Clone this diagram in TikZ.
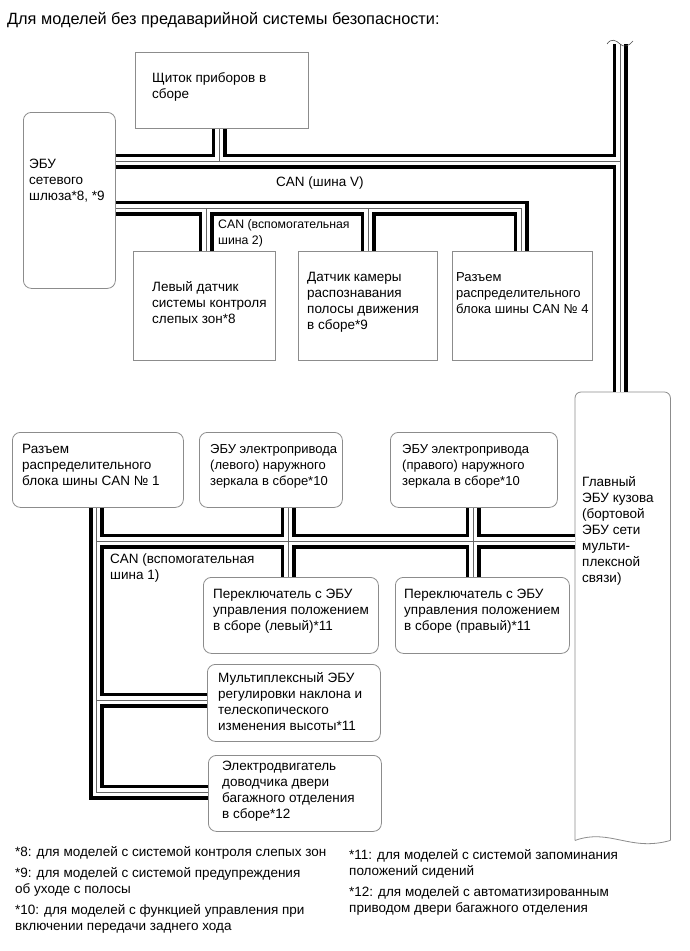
\documentclass[tikz,border=0pt]{standalone}
\usepackage{fontspec}
\setmainfont{Liberation Sans}

\begin{document}
\begin{tikzpicture}[x=1pt,y=-1pt,font=\fontsize{13.5}{16}\selectfont,
    box/.style={draw=black!45,line width=0.8pt,fill=white,anchor=north west,inner sep=0pt},
    rbox/.style={box,rounded corners=8pt},
    txt/.style={anchor=north west,inner sep=0pt,align=left}]
  \useasboundingbox[fill=white] (0,0) rectangle (690,951);

  % Title
  \node[txt,font=\fontsize{16.3}{18}\selectfont] (title) at (7,12) {Для моделей без предаварийной системы безопасности:};

  % Boxes
  \node[box,minimum width=173,minimum height=76]  (cluster) at (135,52)  {};
  \node[rbox,minimum width=92,minimum height=176] (gw)      at (23,112)  {};
  \node[box,minimum width=142,minimum height=109] (bsd)     at (133,251) {};
  \node[box,minimum width=139,minimum height=109] (lane)    at (298,251) {};
  \node[box,minimum width=140,minimum height=109] (jb4)     at (452,251) {};
  \node[rbox,minimum width=171,minimum height=75] (jb1)     at (12,432)  {};
  \node[rbox,minimum width=143,minimum height=75] (mirL)    at (199,432) {};
  \node[rbox,minimum width=167,minimum height=75] (mirR)    at (390,432) {};
  \node[rbox,minimum width=175,minimum height=76] (swL)     at (203,577) {};
  \node[rbox,minimum width=174,minimum height=76] (swR)     at (395,577) {};
  \node[rbox,minimum width=173,minimum height=77] (tilt)    at (207,664) {};
  \node[rbox,minimum width=173,minimum height=76] (door)    at (208,755) {};
  \node[anchor=north west,inner sep=0pt,minimum width=95,minimum height=448] (body) at (575,392) {};

  % Main body ECU: rounded top, torn bottom
  \draw[black!45,line width=0.8pt,rounded corners=6pt]
    (body.south west) -- (body.north west) -- (body.north east) -- (body.south east);
  \draw[black!45,line width=0.8pt]
    (body.south east) .. controls (630,852) and (610,828) .. (body.south west);

  % Bus junctions
  \coordinate (brk) at (620,44);
  \coordinate (jV)  at (219,161);
  \coordinate (j2a) at (206,208);
  \coordinate (j2b) at (368,208);
  \coordinate (j2c) at (521,208);
  \coordinate (jA)  at (96.5,541);
  \coordinate (jM)  at (96.5,700);
  \coordinate (jD)  at (96.5,792);
  \coordinate (xL)  at (288,541);
  \coordinate (xR)  at (473,541);

  % Buses: black pair, white gap, thin centre wire
  \foreach \w/\c in {15/black,7.4/white,0.7/black!60}{
    \draw[line width=\w pt,\c]
      (gw.east |- jV) -- (brk |- jV)
      (brk) -- (brk |- body.north)
      (jV) -- (jV |- cluster.south)
      (gw.east |- j2a) -- (j2c) -- (j2c |- jb4.north)
      (j2a) -- (j2a |- bsd.north)
      (j2b) -- (j2b |- lane.north)
      (jb1.south -| jA) -- (jD) -- (jD -| door.west)
      (jA) -- (jA -| body.west)
      (jM) -- (jM -| tilt.west)
      (xL |- mirL.south) -- (xL |- swL.north)
      (xR |- mirR.south) -- (xR |- swR.north);
  }

  % Break mark on the bus
  \draw[black!70,line width=0.6pt] ([shift={(-13,0)}]brk)
    .. controls ([shift={(-9,-6)}]brk) and ([shift={(-4,-4)}]brk) .. (brk)
    .. controls ([shift={(4,4)}]brk) and ([shift={(9,2)}]brk) .. ([shift={(13,-3)}]brk);

  % Texts in boxes
  \node[txt] (t-cluster) at (152,72)  {Щиток приборов в\\сборе};
  \node[txt] (t-gw)      at (29,159)  {ЭБУ\\сетевого\\шлюза*8, *9};
  \node[txt] (t-bsd)     at (152,281) {Левый датчик\\системы контроля\\слепых зон*8};
  \node[txt] (t-lane)    at (307,272) {Датчик камеры\\распознавания\\полосы движения\\в сборе*9};
  \node[txt,font=\fontsize{13}{16}\selectfont] (t-jb4) at (456,272) {Разъем\\распределительного\\блока шины CAN № 4};
  \node[txt] (t-jb1)     at (22,444)  {Разъем\\распределительного\\блока шины CAN № 1};
  \node[txt,font=\fontsize{13}{16}\selectfont] (t-mirL) at (210,444) {ЭБУ электропривода\\(левого) наружного\\зеркала в сборе*10};
  \node[txt,font=\fontsize{13}{16}\selectfont] (t-mirR) at (402,444) {ЭБУ электропривода\\(правого) наружного\\зеркала в сборе*10};
  \node[txt] (t-swL)     at (213,589) {Переключатель с ЭБУ\\управления положением\\в сборе (левый)*11};
  \node[txt] (t-swR)     at (404,589) {Переключатель с ЭБУ\\управления положением\\в сборе (правый)*11};
  \node[txt] (t-tilt)    at (218,672) {Мультиплексный ЭБУ\\регулировки наклона и\\телескопического\\изменения высоты*11};
  \node[txt] (t-door)    at (222,761) {Электродвигатель\\доводчика двери\\багажного отделения\\в сборе*12};
  \node[txt] (t-body)    at (582,476) {Главный\\ЭБУ кузова\\(бортовой\\ЭБУ сети\\мульти-\\плексной\\связи)};

  % Bus names
  \node[txt] (busV) at (276,177) {CAN (шина V)};
  \node[txt,font=\fontsize{12.3}{16}\selectfont] (bus2) at (218,219) {CAN (вспомогательная\\шина 2)};
  \node[txt] (bus1) at (110,554) {CAN (вспомогательная\\шина 1)};

  % Footnotes
  \node[txt] (fn8)  at (15,846)  {*8: для моделей с системой контроля слепых зон};
  \node[txt] (fn9)  at (15,867)  {*9: для моделей с системой предупреждения\\об уходе с полосы};
  \node[txt] (fn10) at (15,904)  {*10: для моделей с функцией управления при\\включении передачи заднего хода};
  \node[txt] (fn11) at (349,849) {*11: для моделей с системой запоминания\\положений сидений};
  \node[txt] (fn12) at (349,886) {*12: для моделей с автоматизированным\\приводом двери багажного отделения};
\end{tikzpicture}
\end{document}
